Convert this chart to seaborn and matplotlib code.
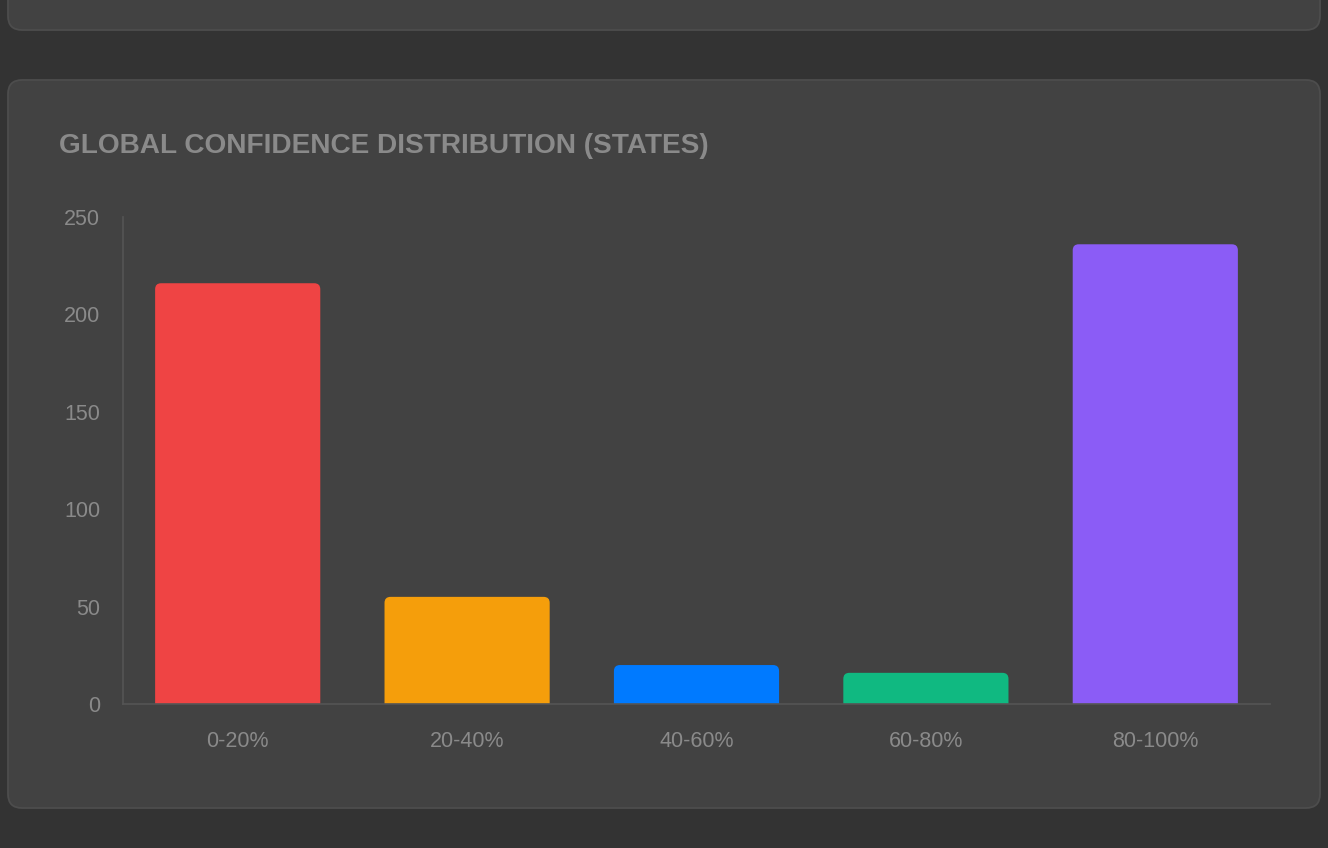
import matplotlib
matplotlib.use("Agg")
import matplotlib.pyplot as plt
from matplotlib.patches import FancyBboxPatch
import seaborn as sns

# data
bins = ["0-20%", "20-40%", "40-60%", "60-80%", "80-100%"]
counts = [216, 55, 20, 16, 236]
bar_colors = ["#EF4444", "#F59E0B", "#007AFF", "#10B981", "#8B5CF6"]
y_ticks = [0, 50, 100, 150, 200, 250]

W, H = 1328, 848
sns.set_theme(style="white")
plt.rcParams['font.family'] = ['Liberation Sans', 'DejaVu Sans']

fig = plt.figure(figsize=(W / 100, H / 100), dpi=100)
fig.patch.set_facecolor("#333333")

# cards (pixel coords -> figure fraction)
def card(x0, y0, x1, y1, r=14):
    box = FancyBboxPatch((x0 / W, 1 - y1 / H), (x1 - x0) / W, (y1 - y0) / H,
                         boxstyle=f"round,pad=0,rounding_size={r / W}",
                         mutation_aspect=W / H, transform=fig.transFigure,
                         facecolor="#424242", edgecolor="#4d4d4d", linewidth=1.3,
                         zorder=0)
    fig.add_artist(box)

card(8, -60, 1320, 30)
card(8, 80, 1320, 808)

fig.text(59 / W, 1 - 146 / H, "GLOBAL CONFIDENCE DISTRIBUTION (STATES)",
         fontsize=20.2, fontweight="bold", color="#8a8a8a", va="center", ha="left")

ax = fig.add_axes([123 / W, 1 - 704 / H, (1270 - 123) / W, (704 - 217) / H])
ax.set_facecolor("none")
sns.barplot(x=bins, y=counts, hue=bins, palette=bar_colors, legend=False,
            width=0.72, saturation=1, ax=ax)
ax.set_ylim(0, 250)
ax.set_xlim(-0.5, 4.5)
ax.set_yticks(y_ticks)

# rounded tops on the bars
xu = (ax.get_xlim()[1] - ax.get_xlim()[0]) / (1270 - 123)
yu = 250 / (704 - 217)
r_px = 6
for p in list(ax.patches):
    x, w, h = p.get_x(), p.get_width(), p.get_height()
    fc = p.get_facecolor()
    p.set_visible(False)
    rb = FancyBboxPatch((x, -20), w, h + 20,
                        boxstyle=f"round,pad=0,rounding_size={r_px * xu}",
                        mutation_aspect=yu / xu, facecolor=fc, edgecolor="none",
                        zorder=2)
    ax.add_patch(rb)

for s in ["top", "right"]:
    ax.spines[s].set_visible(False)
for s in ["left", "bottom"]:
    ax.spines[s].set_color("#555555")
    ax.spines[s].set_linewidth(1.2)
    ax.spines[s].set_zorder(3)
ax.tick_params(axis="both", length=0, labelsize=15.5, colors="#8a8a8a")
ax.tick_params(axis="y", pad=16.5)
ax.tick_params(axis="x", pad=19.5)
ax.set_xlabel("")
ax.set_ylabel("")
ax.grid(False)

fig.savefig("out.png", dpi=100, facecolor=fig.get_facecolor())
